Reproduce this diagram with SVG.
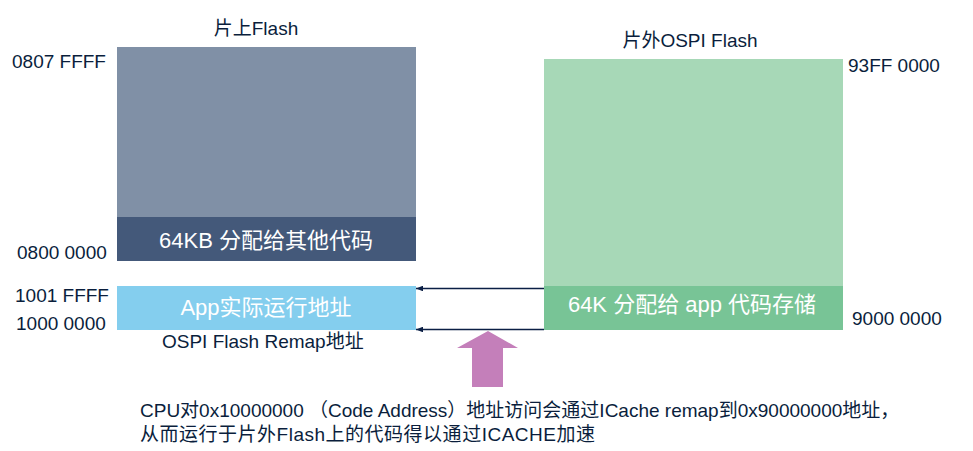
<svg xmlns="http://www.w3.org/2000/svg" width="973" height="451" viewBox="0 0 973 451">
  <style>
    text { font-family: "Liberation Sans", "Noto Sans CJK SC", sans-serif; }
    .lbl { font-size: 19px; fill: #0A1E3C; }
    .in { font-size: 22px; fill: #FFFFFF; text-anchor: middle; }
    .title { font-size: 19px; fill: #0A1E3C; text-anchor: middle; }
    .conn { stroke: #0B1F45; stroke-width: 1.4; fill: none; marker-end: url(#ah); }
  </style>
  <defs>
    <marker id="ah" viewBox="0 0 10 8" refX="10" refY="4" markerWidth="7" markerHeight="5.6" markerUnits="userSpaceOnUse" orient="auto">
      <path d="M0,0 L10,4 L0,8 Z" fill="#0B1F45"/>
    </marker>
  </defs>
  <rect width="973" height="451" fill="#FFFFFF"/>

  <g id="onchip-flash">
    <text class="title" x="256" y="35">片上Flash</text>
    <rect x="117" y="47" width="299" height="170" fill="#8090A6"/>
    <rect x="117" y="217" width="299" height="44" fill="#44597A"/>
    <text class="in" x="266" y="248" font-size="23">64KB 分配给其他代码</text>
    <text class="lbl" x="12" y="68">0807 FFFF</text>
    <text class="lbl" x="17" y="259">0800 0000</text>
  </g>

  <g id="app-region">
    <rect x="117" y="286" width="299" height="44" fill="#84CEEE"/>
    <text class="in" x="266" y="315">App实际运行地址</text>
    <text class="lbl" x="15" y="302">1001 FFFF</text>
    <text class="lbl" x="16" y="330">1000 0000</text>
    <text class="lbl" x="162" y="348">OSPI Flash Remap地址</text>
  </g>

  <g id="ospi-flash">
    <text class="title" x="690" y="47">片外OSPI Flash</text>
    <rect x="544" y="59" width="299" height="227" fill="#A7D8B7"/>
    <rect x="544" y="286" width="299" height="44" fill="#78C496"/>
    <text class="in" x="692" y="312">64K 分配给 app 代码存储</text>
    <text class="lbl" x="848" y="72">93FF 0000</text>
    <text class="lbl" x="852" y="325">9000 0000</text>
  </g>

  <g id="connectors">
    <line class="conn" x1="544" y1="288.5" x2="416" y2="288.5"/>
    <line class="conn" x1="544" y1="329.5" x2="416" y2="329.5"/>
  </g>

  <g id="cache-arrow">
    <polygon points="488,331 518,348 503,348 503,387 472,387 472,348 457,348" fill="#C47FBA"/>
  </g>

  <g id="caption">
    <text class="lbl" x="140" y="417">CPU对0x10000000 （Code Address）地址访问会通过ICache remap到0x90000000地址，</text>
    <text class="lbl" x="140" y="441" textLength="455" lengthAdjust="spacing">从而运行于片外Flash上的代码得以通过ICACHE加速</text>
  </g>
</svg>
